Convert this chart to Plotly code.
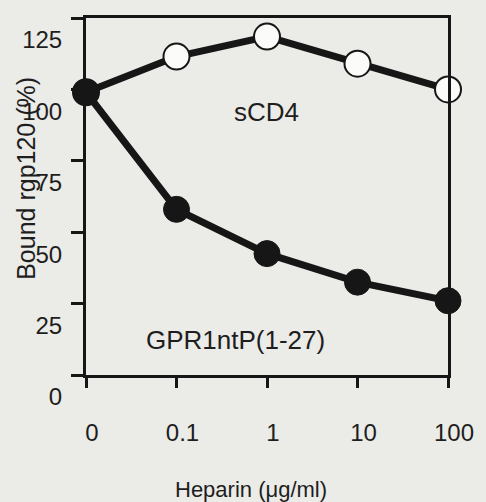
import plotly.graph_objects as go

heparin = ["0", "0.1", "1", "10", "100"]
scd4 = [99, 111.5, 118.5, 109, 100]
gpr1ntp = [99, 58, 42.5, 32.5, 26]
y_ticks = [0, 25, 50, 75, 100, 125]

BG = "#ebebe7"
INK = "#161616"
FONT = "Liberation Sans, Arial, sans-serif"

fig = go.Figure()
fig.add_trace(go.Scatter(
    x=heparin, y=scd4, mode="lines+markers", cliponaxis=False,
    line=dict(color=INK, width=7),
    marker=dict(symbol="circle", size=26, color="#fbfbf9", line=dict(color=INK, width=2)),
    showlegend=False))
fig.add_trace(go.Scatter(
    x=heparin, y=gpr1ntp, mode="lines+markers", cliponaxis=False,
    line=dict(color=INK, width=7),
    marker=dict(symbol="circle", size=26, color=INK, line=dict(color=INK, width=1)),
    showlegend=False))

fig.update_layout(
    width=486, height=502,
    margin=dict(l=86, r=27, t=18, b=127),
    paper_bgcolor=BG, plot_bgcolor=BG,
    font=dict(family=FONT, color="#1e1e1e", size=24),
    xaxis=dict(type="category", range=[0, 4], showgrid=False, zeroline=False,
               showline=True, linecolor=INK, linewidth=3, mirror=True,
               ticks="outside", ticklen=10, tickwidth=3, tickcolor=INK,
               tickfont=dict(size=24), ticklabelstandoff=24, ticklabelshift=6),
    yaxis=dict(range=[0, 125], tickvals=y_ticks, showgrid=False, zeroline=False,
               showline=True, linecolor=INK, linewidth=3, mirror=True,
               ticks="outside", ticklen=12, tickwidth=3, tickcolor=INK,
               tickfont=dict(size=24), ticklabelshift=22, ticklabelstandoff=4),
    annotations=[
        dict(text="sCD4", xref="paper", yref="paper", x=0.499, y=0.737,
             xanchor="center", yanchor="middle", showarrow=False, font=dict(size=26)),
        dict(text="GPR1ntP(1-27)", xref="paper", yref="paper", x=0.414, y=0.098,
             xanchor="center", yanchor="middle", showarrow=False, font=dict(size=26)),
        dict(text="Bound rgp120 (%)", xref="paper", yref="paper", x=-0.168, y=0.55,
             xanchor="center", yanchor="middle", showarrow=False, textangle=-90,
             font=dict(size=25)),
        dict(text="Heparin (μg/ml)", xref="paper", yref="paper", x=0.455, y=-0.322,
             xanchor="center", yanchor="middle", showarrow=False, font=dict(size=22)),
    ],
)

fig.write_html("out.html")
